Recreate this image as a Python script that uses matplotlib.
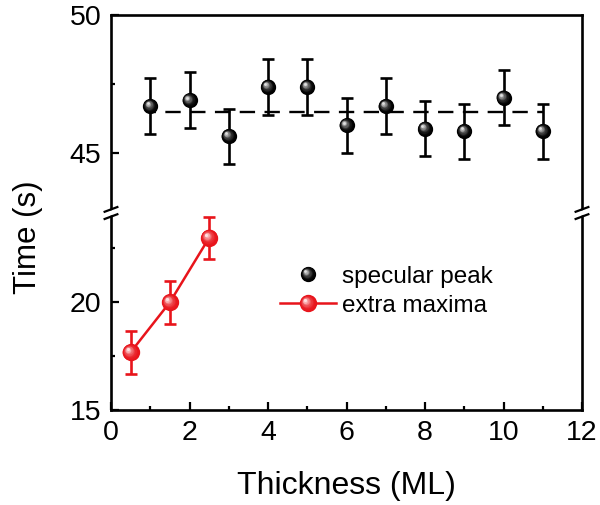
import numpy as np
import matplotlib
matplotlib.use('Agg')
import matplotlib.pyplot as plt
from matplotlib.colors import to_rgb
from matplotlib.transforms import ScaledTranslation
from matplotlib.lines import Line2D
from matplotlib.ticker import MultipleLocator

# data
spec_x = [1, 2, 3, 4, 5, 6, 7, 8, 9, 10, 11]
spec_y = [46.69, 46.90, 45.60, 47.39, 47.39, 45.99, 46.69, 45.87, 45.78, 46.99, 45.78]
spec_err = [1.02, 1.02, 1.0, 1.01, 1.01, 1.0, 1.02, 1.0, 1.0, 1.0, 1.0]
spec_mean = 46.47

extra_x = [0.5, 1.5, 2.5]
extra_y = [17.68, 20.0, 22.99]
extra_err = [1.0, 1.0, 0.97]

labels = ['specular peak', 'extra maxima']

plt.rcParams['font.family'] = ['Liberation Sans', 'DejaVu Sans']

RED = '#e8141b'

fig = plt.figure(figsize=(6, 5.05), dpi=100)
ax_top = fig.add_axes([0.185, 0.5782, 0.785, 0.3921])
ax_bot = fig.add_axes([0.185, 0.1881, 0.785, 0.3901])


def mix(c1, c2, f):
    a = np.array(to_rgb(c1))
    b = np.array(to_rgb(c2))
    return tuple(a + (b - a) * f)


def balls(ax, xs, ys, color, light, size, transform=None):
    """Draw shaded sphere markers."""
    base = ax.transData if transform is None else transform
    n = 10
    for i in range(n):
        f = i / (n - 1)
        s = size * (1 - 0.82 * f)
        off = size * 0.17 * f
        tr = base + ScaledTranslation(-off / 72, off / 72, fig.dpi_scale_trans)
        ax.plot(xs, ys, 'o', ms=s, color=mix(color, light, f ** 2.2), mec='none',
                transform=tr, zorder=4 + i * 0.01, clip_on=False)


# upper panel: specular peak
ax_top.errorbar(spec_x, spec_y, yerr=spec_err, fmt='none', ecolor='black',
                elinewidth=1.9, capsize=4.5, capthick=1.9, zorder=3)
ax_top.plot([spec_x[0], spec_x[-1]], [spec_mean, spec_mean], color='black', lw=1.7,
            linestyle=(4, (6.5, 4)), zorder=2)
balls(ax_top, spec_x, spec_y, 'black', '#e0e0e0', 11)

# lower panel: extra maxima
ax_bot.errorbar(extra_x, extra_y, yerr=extra_err, fmt='none', ecolor=RED,
                elinewidth=1.9, capsize=4.5, capthick=1.9, zorder=3)
ax_bot.plot(extra_x, extra_y, color=RED, lw=1.8, zorder=2)
balls(ax_bot, extra_x, extra_y, RED, '#ffe0e0', 12.5)

for ax in (ax_top, ax_bot):
    ax.set_xlim(0, 12)
    for s in ax.spines.values():
        s.set_linewidth(1.9)
    ax.tick_params(axis='both', which='both', direction='in', right=False, top=False,
                   labelsize=20.5, width=1.6)
    ax.tick_params(which='major', length=6)
    ax.tick_params(which='minor', length=3)
    ax.tick_params(axis='y', pad=7)

ax_top.set_ylim(42.8, 50)
ax_top.yaxis.set_major_locator(MultipleLocator(5))
ax_top.yaxis.set_minor_locator(MultipleLocator(2.5))
ax_top.spines['bottom'].set_visible(False)
ax_top.tick_params(axis='x', which='both', bottom=False, labelbottom=False)

ax_bot.set_ylim(15, 24.14)
ax_bot.yaxis.set_major_locator(MultipleLocator(5))
ax_bot.yaxis.set_minor_locator(MultipleLocator(2.5))
ax_bot.xaxis.set_major_locator(MultipleLocator(2))
ax_bot.xaxis.set_minor_locator(MultipleLocator(1))
ax_bot.spines['top'].set_visible(False)
ax_bot.tick_params(axis='x', pad=7)
ax_bot.set_xlabel('Thickness (ML)', fontsize=23, labelpad=18)

fig.text(0.047, 1 - 237 / 505, 'Time (s)', rotation=90, fontsize=22.5,
         ha='center', va='center')

# axis break marks
for xa in (0, 1):
    base = ax_bot.transAxes
    for dy in (-2.6, 2.6):
        tr = base + ScaledTranslation(0, dy / 72, fig.dpi_scale_trans)
        ax_bot.plot([xa - 0.0135, xa + 0.0135], [1 - 0.012, 1 + 0.012], color='black',
                    lw=1.6, transform=tr, clip_on=False, zorder=10)
    ax_bot.fill([xa - 0.0135, xa + 0.0135, xa + 0.0135, xa - 0.0135],
                [1 - 0.012 - 0.013, 1 + 0.012 - 0.013, 1 + 0.012 + 0.013, 1 - 0.012 + 0.013],
                color='white', transform=base, clip_on=False, zorder=9, lw=0)

# legend: invisible handles keep the layout, shaded balls drawn on top
handles = [Line2D([], [], marker='o', ms=11, color='none', lw=0),
           Line2D([], [], marker='o', ms=12.5, color='none', mec='none', lw=0)]
leg = ax_bot.legend(handles, labels, loc='upper left',
                    bbox_to_anchor=(0.332, 0.795), frameon=False, fontsize=17.5,
                    handlelength=2.35, handletextpad=0.2, borderpad=0, labelspacing=0.3)
fig.canvas.draw()
inv = ax_bot.transAxes.inverted()
rows = []
for h in leg.legend_handles:
    xd, yd = h.get_xdata(), h.get_ydata()
    disp = h.get_transform().transform(np.column_stack([xd, yd]))
    rows.append(inv.transform(disp))
# specular peak row: ball only
cx = rows[0][:, 0].mean()
cy = rows[0][:, 1].mean()
balls(ax_bot, [cx], [cy], 'black', '#e0e0e0', 11, transform=ax_bot.transAxes)
# extra maxima row: red line + ball
cx2 = rows[1][:, 0].mean()
cy2 = rows[1][:, 1].mean()
half = 0.06
ax_bot.plot([cx2 - half, cx2 + half], [cy2, cy2], color=RED, lw=1.8,
            transform=ax_bot.transAxes, clip_on=False, zorder=3.5)
balls(ax_bot, [cx2], [cy2], RED, '#ffe0e0', 12.5, transform=ax_bot.transAxes)

fig.savefig('out.png', dpi=100)
